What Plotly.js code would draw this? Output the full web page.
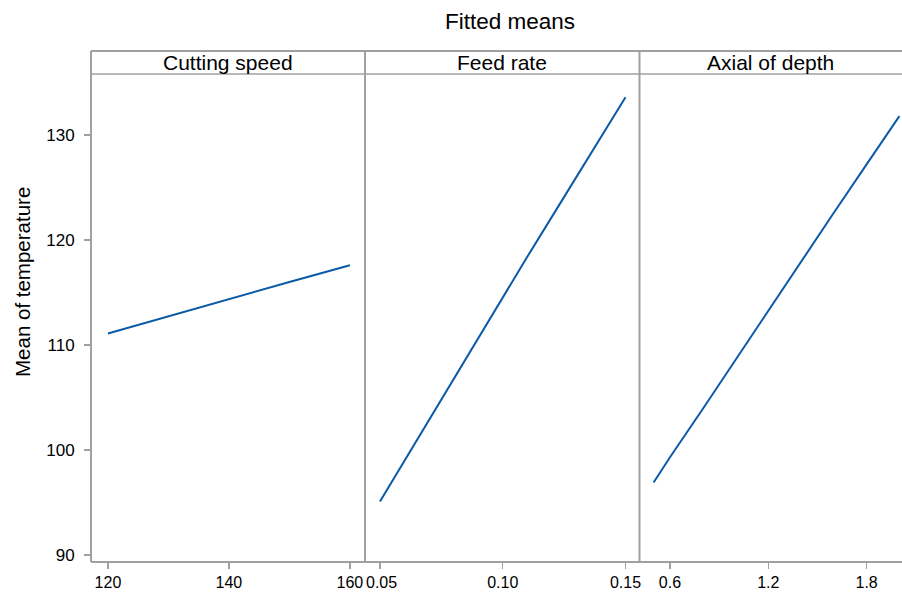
<!DOCTYPE html>
<html>
<head>
<meta charset="utf-8">
<script src="https://cdn.plot.ly/plotly-3.0.1.min.js"></script>
<style>html,body{margin:0;padding:0;background:#fff;}#chart{width:902px;height:596px;}</style>
</head>
<body>
<div id="chart"></div>
<script>
// Data
const panelTitles = ["Cutting speed", "Feed rate", "Axial of depth"];
const speedX = [120, 130, 140, 150, 160];
const speedY = [111.1, 112.75, 114.4, 116.0, 117.6];
const feedX = [0.05, 0.06, 0.07, 0.08, 0.09, 0.10, 0.11, 0.12, 0.13, 0.14, 0.15];
const feedY = [95.1, 99.0, 102.9, 106.8, 110.7, 114.6, 118.4, 122.2, 126.0, 129.8, 133.6];
const depthX = [0.5, 0.6, 0.8, 1.0, 1.2, 1.4, 1.6, 1.8, 2.0];
const depthY = [96.9, 99.3, 103.9, 108.6, 113.3, 117.9, 122.6, 127.2, 131.8];
const speedTicks = [120, 140, 160];
const feedTicks = [0.05, 0.10, 0.15];
const feedTickText = ["\u20090.05", "0.10", "0.15"];
const depthTicks = [0.6, 1.2, 1.8];
const depthTickText = ["0.6", "1.2", "1.8"];
const yTicks = [90, 100, 110, 120, 130];

const lineColor = "#0a5aa8";
const grey = "#a0a0a0";
const font = "Liberation Sans, Arial, Helvetica, sans-serif";

const traces = [
  {x: speedX, y: speedY, xaxis: "x", yaxis: "y", mode: "lines", line: {color: lineColor, width: 2}},
  {x: feedX, y: feedY, xaxis: "x2", yaxis: "y", mode: "lines", line: {color: lineColor, width: 2}},
  {x: depthX, y: depthY, xaxis: "x3", yaxis: "y", mode: "lines", line: {color: lineColor, width: 2}}
];

const W = 811; // plot width in px
const d1 = 274 / W, d2 = 548.5 / W;
const hdr = 23 / 488;

function xax(domain, range, tickvals, ticktext) {
  const a = {
    domain: domain, range: range, tickvals: tickvals,
    ticks: "outside", ticklen: 6, tickcolor: grey, tickwidth: 1.5,
    showgrid: false, zeroline: false, showline: false,
    tickfont: {family: font, size: 16, color: "#000"},
    fixedrange: true
  };
  if (ticktext) a.ticktext = ticktext;
  return a;
}

const layout = {
  width: 902, height: 596,
  margin: {l: 91, r: 0, t: 74, b: 34},
  paper_bgcolor: "#fff", plot_bgcolor: "#fff",
  showlegend: false,
  title: {text: "Fitted means", font: {family: font, size: 22.5, color: "#000"}, x: 510 / 902, xanchor: "center", y: 0.965, yanchor: "middle"},
  xaxis: xax([0, d1], [117.2, 162.5], speedTicks),
  xaxis2: xax([d1, d2], [0.0439, 0.1557], feedTicks, feedTickText),
  xaxis3: xax([d2, 1], [0.414, 2.016], depthTicks, depthTickText),
  yaxis: {
    range: [89.33, 135.81], tickvals: yTicks,
    ticks: "outside", ticklen: 6, tickcolor: grey, tickwidth: 1.5,
    showgrid: false, zeroline: false, showline: false,
    tickfont: {family: font, size: 17, color: "#000"},
    ticklabelstandoff: 6,
    fixedrange: true
  },
  annotations: [
    {text: "Mean of temperature", xref: "paper", yref: "paper", x: -69 / W, y: 1 - (282 - 74) / 488, textangle: -90,
     showarrow: false, xanchor: "center", yanchor: "middle", font: {family: font, size: 20.5, color: "#000"}}
  ].concat(panelTitles.map((t, i) => ({
    text: t, xref: "paper", yref: "paper",
    x: [d1 / 2, (d1 + d2) / 2, (d2 + 1) / 2][i], y: 1 + hdr / 2,
    showarrow: false, xanchor: "center", yanchor: "middle",
    font: {family: font, size: 21, color: "#000"}
  }))),
  shapes: [
    {type: "line", xref: "paper", yref: "paper", x0: 0, x1: 1.01, y0: 1 + hdr, y1: 1 + hdr, line: {color: grey, width: 2}},
    {type: "line", xref: "paper", yref: "paper", x0: 0, x1: 1.01, y0: 1, y1: 1, line: {color: grey, width: 1.5}},
    {type: "line", xref: "paper", yref: "paper", x0: 0, x1: 0, y0: 0, y1: 1 + hdr, line: {color: grey, width: 2}},
    {type: "line", xref: "paper", yref: "paper", x0: 0, x1: 1.01, y0: 0, y1: 0, line: {color: grey, width: 2}},
    {type: "line", xref: "paper", yref: "paper", x0: d1, x1: d1, y0: 0, y1: 1 + hdr, line: {color: grey, width: 2}},
    {type: "line", xref: "paper", yref: "paper", x0: d2, x1: d2, y0: 0, y1: 1 + hdr, line: {color: grey, width: 2}}
  ]
};

Plotly.newPlot("chart", traces, layout, {displayModeBar: false, staticPlot: true});
</script>
</body>
</html>
